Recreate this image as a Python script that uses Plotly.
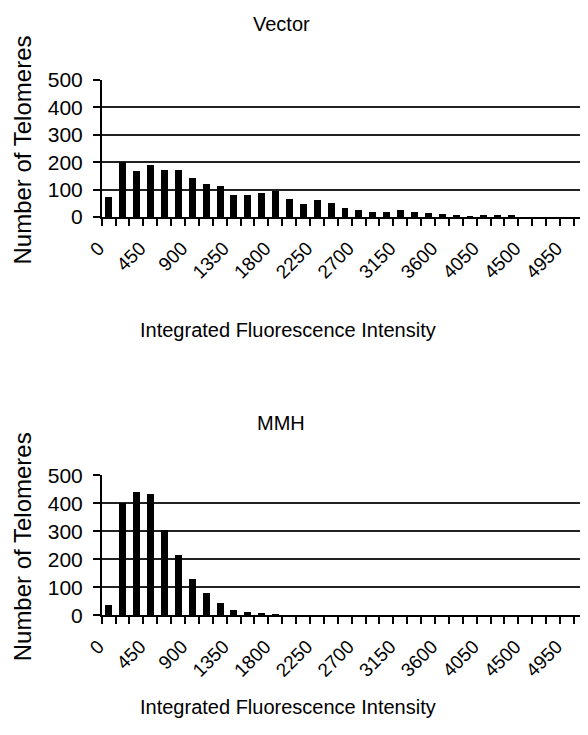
import plotly.graph_objects as go

# Data
bins = [i * 150 for i in range(35)]  # 0 .. 5100
vector_counts = [72, 201, 169, 190, 172, 172, 144, 121, 113, 82, 80, 87, 96, 67, 48, 62, 52,
                 34, 26, 17, 17, 26, 17, 13, 10, 6, 2, 6, 6, 6, 0, 0, 0, 0, 0]
mmh_counts = [37, 399, 439, 431, 305, 213, 129, 79, 43, 19, 11, 7, 2, 0, 0, 0, 0,
              0, 0, 0, 0, 0, 0, 0, 0, 0, 0, 0, 0, 0, 0, 0, 0, 0, 0]
tick_values = [0, 450, 900, 1350, 1800, 2250, 2700, 3150, 3600, 4050, 4500, 4950]
tick_labels = [str(v) for v in tick_values]
titles = ["Vector", "MMH"]
x_title = "Integrated Fluorescence Intensity"
y_title = "Number of Telomeres"

# page has an 8px body margin; figure is sized to fit in the window
OFF = 8
W, H = 580, 727
FONT = "Liberation Sans, Arial, sans-serif"

fig = go.Figure()

x0p, x1p = 101.7 - OFF, 587.7 - OFF
plots = [(80 - OFF, 217 - OFF), (475.3 - OFF, 615.3 - OFF)]
title_y = [24 - OFF, 423 - OFF]
xtitle_y = [330 - OFF, 707 - OFF]
series = [vector_counts, mmh_counts]

for i, ((ytop, ybot), vals) in enumerate(zip(plots, series)):
    xa = "x" if i == 0 else "x2"
    ya = "y" if i == 0 else "y2"
    fig.add_trace(go.Bar(x=bins, y=vals, xaxis=xa, yaxis=ya, width=75,
                         marker=dict(color="black", line=dict(width=0)),
                         showlegend=False))
    axkey = "" if i == 0 else "2"
    fig.update_layout(**{
        "xaxis" + axkey: dict(
            domain=[x0p / W, x1p / W], anchor=ya,
            range=[-75, 5175], tickmode="array",
            tickvals=tick_values, ticktext=tick_labels,
            tickangle=-45, ticks="", showgrid=False, zeroline=False,
            showline=True, linecolor="black", linewidth=1.5,
            tickfont=dict(family=FONT, size=19, color="black"),
            ticklabelstandoff=11, ticklabelshift=-10,
            minor=dict(tickmode="linear", tick0=-75, dtick=150, ticks="outside",
                       ticklen=7, tickwidth=1.5, tickcolor="black", showgrid=False),
            automargin=False, fixedrange=True,
        ),
        "yaxis" + axkey: dict(
            domain=[1 - ybot / H, 1 - ytop / H], anchor=xa,
            range=[0, 500], dtick=100, tick0=0, ticks="outside", ticklen=7,
            tickwidth=1.5, tickcolor="black",
            showgrid=True, gridcolor="#222222", gridwidth=1.6, zeroline=False,
            showline=True, linecolor="black", linewidth=1.5,
            tickfont=dict(family=FONT, size=21, color="black"),
            ticklabelstandoff=6,
            automargin=False, fixedrange=True,
        ),
    })
    fig.add_annotation(text=titles[i], xref="paper", yref="paper",
                       x=(281 - OFF) / W, y=1 - title_y[i] / H, showarrow=False,
                       font=dict(family=FONT, size=20, color="black"),
                       xanchor="center", yanchor="middle")
    fig.add_annotation(text=x_title, xref="paper", yref="paper",
                       x=(288 - OFF) / W, y=1 - xtitle_y[i] / H, showarrow=False,
                       font=dict(family=FONT, size=20, color="black"),
                       xanchor="center", yanchor="middle")
    fig.add_annotation(text=y_title, xref="paper", yref="paper",
                       x=(22 - OFF) / W, y=1 - ((ytop + ybot) / 2 + 2) / H, showarrow=False,
                       textangle=-90,
                       font=dict(family=FONT, size=24, color="black"),
                       xanchor="center", yanchor="middle")

fig.update_layout(width=W, height=H, margin=dict(l=0, r=0, t=0, b=0),
                  paper_bgcolor="white", plot_bgcolor="white", bargap=0)

fig.write_html("out.html")
